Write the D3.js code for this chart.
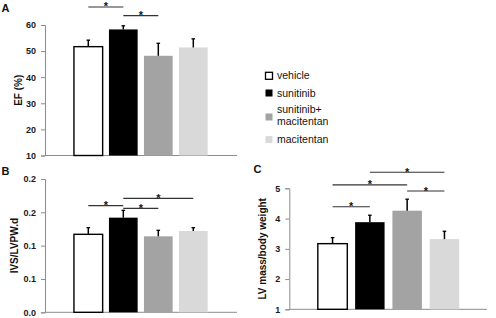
<!DOCTYPE html>
<html>
<head>
<meta charset="utf-8">
<script src="https://cdn.jsdelivr.net/npm/d3@7"></script>
<style>
body { margin: 0; background: #fff; }
svg { font-family: "Liberation Sans", Arial, sans-serif; }
</style>
</head>
<body>
<div id="container"></div>
<script>
let w = 496;
let h = 318;

// groups and colours
let groups = ["vehicle", "sunitinib", "sunitinib+ macitentan", "macitentan"];
let fills = ["#ffffff", "#000000", "#a3a3a3", "#d9d9d9"];

// panel A: EF (%)
let efMean = [51.7, 58.3, 48.2, 51.4];
let efErr = [2.5, 1.4, 4.8, 3.3];
let efTicks = [10, 20, 30, 40, 50, 60];
let efSig = [[0, 1, 66.9], [1, 2, 63.6]];

// panel B: IVS/LVPW.d
let ivsMean = [0.117, 0.142, 0.114, 0.122];
let ivsErr = [0.010, 0.011, 0.009, 0.005];
let ivsTicks = [0, 0.05, 0.1, 0.15, 0.2];
let ivsTickLabels = ["0.0", "0.1", "0.1", "0.2", "0.2"];
let ivsSig = [[0, 1, 0.160], [1, 2, 0.156], [1, 3, 0.171]];

// panel C: LV mass/body weight
let lvMean = [3.17, 3.88, 4.26, 3.32];
let lvErr = [0.20, 0.23, 0.38, 0.26];
let lvTicks = [1, 2, 3, 4, 5];
let lvSig = [[0, 1, 4.39], [0, 2, 5.11], [2, 3, 4.91], [1, 3, 5.53]];

let viz = d3.select("#container").append("svg")
  .attr("width", w)
  .attr("height", h);

function drawPanel(opt){
  let g = viz.append("g");

  let yScale = d3.scaleLinear().domain(opt.domain).range([opt.bottom, opt.top]);
  let xScale = d3.scaleBand().domain(d3.range(groups.length))
    .range(opt.band)
    .paddingInner(opt.pad)
    .paddingOuter(opt.pad / 2);

  // y axis
  let yAxis = d3.axisLeft(yScale)
    .tickValues(opt.ticks)
    .tickSize(4)
    .tickPadding(5)
    .tickFormat(function(d, i){ return opt.tickLabels ? opt.tickLabels[i] : d; });
  let ya = g.append("g")
    .attr("transform", "translate(" + opt.left + ",0)")
    .call(yAxis);
  ya.select(".domain").attr("stroke", "#8c8c8c").attr("stroke-width", 1);
  ya.selectAll(".tick line").attr("stroke", "#8c8c8c");
  ya.selectAll(".tick text")
    .attr("fill", "#1a1a1a")
    .style("font-size", "9px")
    .style("font-weight", "bold");

  // x axis line
  g.append("line")
    .attr("x1", opt.left).attr("x2", opt.right)
    .attr("y1", opt.bottom).attr("y2", opt.bottom)
    .attr("stroke", "#8c8c8c");

  // bars
  g.selectAll(".bar").data(opt.mean).enter()
    .append("rect")
    .attr("class", "bar")
    .attr("x", function(d, i){ return xScale(i); })
    .attr("width", xScale.bandwidth())
    .attr("y", function(d){ return yScale(d); })
    .attr("height", function(d){ return opt.bottom - yScale(d); })
    .attr("fill", function(d, i){ return fills[i]; })
    .attr("stroke", function(d, i){ return i == 0 ? "#000" : "none"; })
    .attr("stroke-width", 1.4);

  // error bars (upper only)
  g.selectAll(".err").data(opt.mean).enter()
    .append("line")
    .attr("class", "err")
    .attr("x1", function(d, i){ return xScale(i) + xScale.bandwidth() / 2; })
    .attr("x2", function(d, i){ return xScale(i) + xScale.bandwidth() / 2; })
    .attr("y1", function(d){ return yScale(d); })
    .attr("y2", function(d, i){ return yScale(d + opt.err[i]); })
    .attr("stroke", "#000")
    .attr("stroke-width", 1.5);
  g.selectAll(".cap").data(opt.mean).enter()
    .append("line")
    .attr("class", "cap")
    .attr("x1", function(d, i){ return xScale(i) + xScale.bandwidth() / 2 - 1.8; })
    .attr("x2", function(d, i){ return xScale(i) + xScale.bandwidth() / 2 + 1.8; })
    .attr("y1", function(d, i){ return yScale(d + opt.err[i]); })
    .attr("y2", function(d, i){ return yScale(d + opt.err[i]); })
    .attr("stroke", "#000")
    .attr("stroke-width", 1.3);

  // significance lines
  let centre = function(i){ return xScale(i) + xScale.bandwidth() / 2; };
  g.selectAll(".sig").data(opt.sig).enter()
    .append("line")
    .attr("class", "sig")
    .attr("x1", function(d){ return centre(d[0]); })
    .attr("x2", function(d){ return centre(d[1]); })
    .attr("y1", function(d){ return yScale(d[2]); })
    .attr("y2", function(d){ return yScale(d[2]); })
    .attr("stroke", "#333")
    .attr("stroke-width", 1.2);
  g.selectAll(".star").data(opt.sig).enter()
    .append("text")
    .attr("class", "star")
    .attr("x", function(d){ return (centre(d[0]) + centre(d[1])) / 2; })
    .attr("y", function(d){ return yScale(d[2]) + 3.5; })
    .attr("text-anchor", "middle")
    .style("font-size", "11px")
    .style("font-weight", "bold")
    .attr("fill", "#111")
    .text("*");

  // axis title
  g.append("text")
    .attr("transform", "translate(" + opt.titleX + "," + (opt.top + opt.bottom) / 2 + ") rotate(-90)")
    .attr("text-anchor", "middle")
    .style("font-size", "10px")
    .style("font-weight", "bold")
    .attr("fill", "#111")
    .text(opt.title);

  // panel letter
  g.append("text")
    .attr("x", opt.letterX).attr("y", opt.letterY)
    .style("font-size", "11px")
    .style("font-weight", "bold")
    .attr("fill", "#111")
    .text(opt.letter);
}

drawPanel({
  mean: efMean, err: efErr, ticks: efTicks, sig: efSig,
  domain: [10, 60], top: 25, bottom: 155.5, left: 45, right: 237,
  band: [70.8, 210.8], pad: 0.18,
  title: "EF (%)", titleX: 22, letter: "A", letterX: 1.5, letterY: 12
});

drawPanel({
  mean: ivsMean, err: ivsErr, ticks: ivsTicks, tickLabels: ivsTickLabels, sig: ivsSig,
  domain: [0, 0.2], top: 179, bottom: 312.3, left: 45, right: 237,
  band: [70.8, 210.8], pad: 0.18,
  title: "IVS/LVPW.d", titleX: 18, letter: "B", letterX: 1.5, letterY: 175
});

drawPanel({
  mean: lvMean, err: lvErr, ticks: lvTicks, sig: lvSig,
  domain: [1, 5], top: 188.3, bottom: 309.3, left: 289.3, right: 487,
  band: [313.9, 463.1], pad: 0.21,
  title: "LV mass/body weight", titleX: 266, letter: "C", letterX: 253.5, letterY: 173
});

// legend
let legendY = [75.8, 93, 117, 139.6];
let leg = viz.append("g");
leg.selectAll("rect").data(groups).enter()
  .append("rect")
  .attr("x", 265.5)
  .attr("y", function(d, i){ return legendY[i] - 3.5; })
  .attr("width", 7)
  .attr("height", 7)
  .attr("fill", function(d, i){ return fills[i]; })
  .attr("stroke", function(d, i){ return i == 0 ? "#000" : "none"; })
  .attr("stroke-width", 1.3);
leg.selectAll("text").data(groups).enter()
  .append("text")
  .attr("x", 277)
  .attr("y", function(d, i){ return legendY[i] + 3.5; })
  .style("font-size", "10.5px")
  .attr("fill", "#111")
  .each(function(d, i){
    let parts = d.split(" ");
    let t = d3.select(this);
    if (parts.length > 1){
      // two-line label centred on its swatch
      parts.forEach(function(p, j){
        t.append("tspan").attr("x", 277)
          .attr("y", legendY[i] + (j == 0 ? -4.5 : 8))
          .text(p);
      });
    } else {
      t.text(d);
    }
  });
</script>
</body>
</html>
